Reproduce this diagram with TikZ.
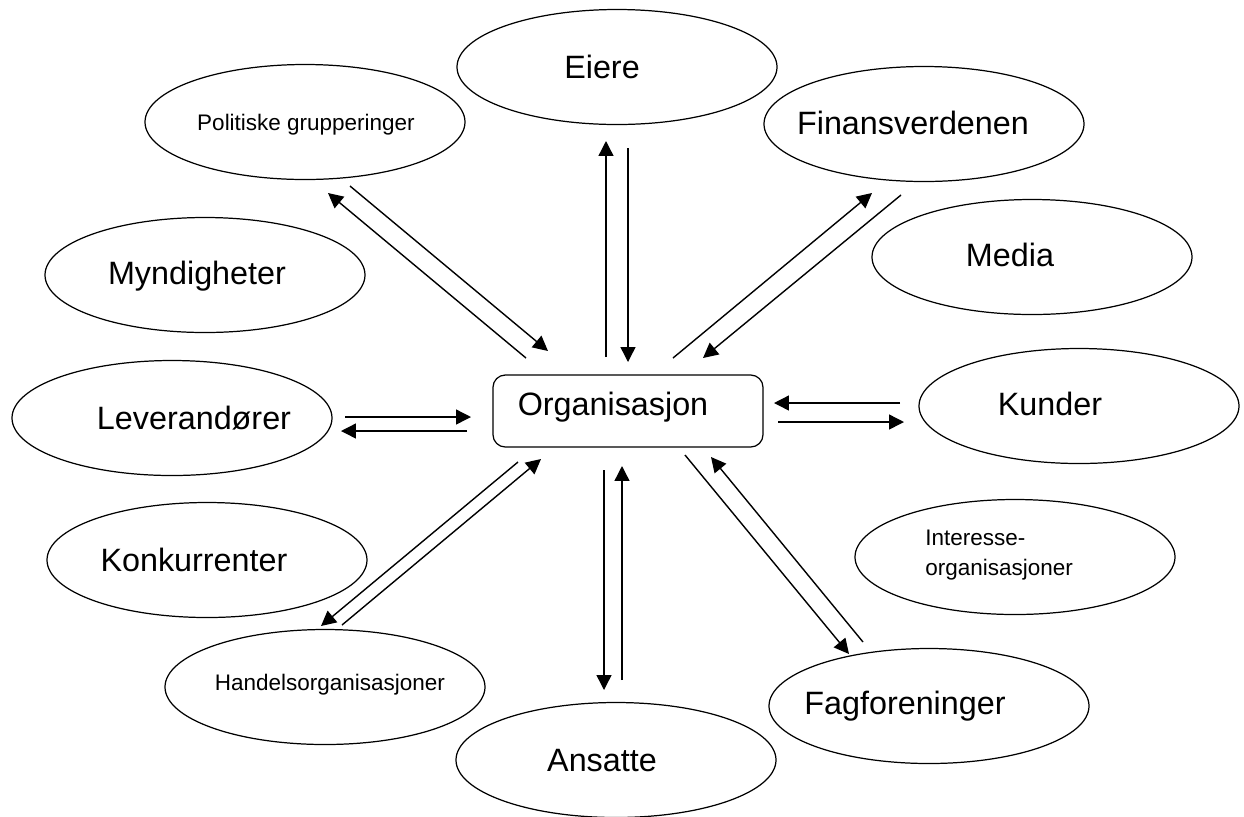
\documentclass[tikz,border=0pt]{standalone}
\usepackage{fontspec}
\setmainfont{Liberation Sans}
\usetikzlibrary{shapes.geometric,arrows.meta}
\begin{document}
\begin{tikzpicture}[x=0.02cm,y=-0.02cm,
  stake/.style={draw=black,line width=0.7pt,ellipse,minimum width=320*0.02cm,minimum height=115*0.02cm,inner sep=0pt},
  core/.style={draw=black,line width=0.7pt,rounded corners=7pt,minimum width=270*0.02cm,minimum height=72*0.02cm,inner sep=0pt},
  bigtxt/.style={anchor=base,inner sep=0pt,font=\fontsize{18.4}{22}\selectfont},
  smalltxt/.style={anchor=base,inner sep=0pt,font=\fontsize{12.8}{17}\selectfont},
  flow/.style={line width=0.8pt,-{Triangle[length=8.5pt,width=8.5pt]}}]
\useasboundingbox (0,0) rectangle (1244,816);

% stakeholder ellipses
\node[stake] (eiere) at (617,67) {};
\node[stake] (pol)   at (305,122) {};
\node[stake] (fin)   at (924,124) {};
\node[stake] (myn)   at (205,275) {};
\node[stake] (med)   at (1032,257) {};
\node[stake] (lev)   at (172,418) {};
\node[stake] (kun)   at (1079,406) {};
\node[stake] (kon)   at (207,560) {};
\node[stake] (int)   at (1015,557) {};
\node[stake] (han)   at (325,687) {};
\node[stake] (ans)   at (616,760) {};
\node[stake] (fag)   at (929,706) {};

% central organisation
\node[core] (org) at (628,411) {};

% labels
\node[bigtxt] (teiere) at (602,78) {Eiere};
\node[smalltxt] (tpol) at (306,130) {Politiske grupperinger};
\node[bigtxt] (tfin) at (913,134) {Finansverdenen};
\node[bigtxt] (tmyn) at (197,284) {Myndigheter};
\node[bigtxt] (tmed) at (1010,266) {Media};
\node[bigtxt] (tlev) at (194,429) {Leverandører};
\node[bigtxt] (tkun) at (1050,415) {Kunder};
\node[bigtxt] (tkon) at (194,571) {Konkurrenter};
\node[smalltxt,anchor=base west] (tint1) at (925,545) {Interesse-};
\node[smalltxt,anchor=base west] (tint2) at (925,575) {organisasjoner};
\node[smalltxt] (than) at (330,690) {Handelsorganisasjoner};
\node[bigtxt] (tans) at (602,771) {Ansatte};
\node[bigtxt] (tfag) at (905,714) {Fagforeninger};
\node[bigtxt] (torg) at (613,415) {Organisasjon};

% arrow end points
\coordinate (e1) at (606,357); \coordinate (e2) at (606,141);
\coordinate (e3) at (628,148); \coordinate (e4) at (628,362);
\coordinate (p1) at (526,358); \coordinate (p2) at (328,193);
\coordinate (p3) at (350,186); \coordinate (p4) at (548,351);
\coordinate (f1) at (673,358); \coordinate (f2) at (872,193);
\coordinate (f3) at (901,195); \coordinate (f4) at (703,358);
\coordinate (l1) at (345,417); \coordinate (l2) at (471,417);
\coordinate (l3) at (467,431); \coordinate (l4) at (341,431);
\coordinate (k1) at (900,403); \coordinate (k2) at (774,403);
\coordinate (k3) at (778,422); \coordinate (k4) at (904,422);
\coordinate (h1) at (518,462); \coordinate (h2) at (321,626);
\coordinate (h3) at (342,625); \coordinate (h4) at (541,459);
\coordinate (a1) at (604,470); \coordinate (a2) at (604,690);
\coordinate (a3) at (622,680); \coordinate (a4) at (622,466);
\coordinate (g1) at (685,455); \coordinate (g2) at (849,654);
\coordinate (g3) at (863,642); \coordinate (g4) at (711,457);

% two-way flows
\draw[flow] (e1) -- (e2); \draw[flow] (e3) -- (e4);
\draw[flow] (p1) -- (p2); \draw[flow] (p3) -- (p4);
\draw[flow] (f1) -- (f2); \draw[flow] (f3) -- (f4);
\draw[flow] (l1) -- (l2); \draw[flow] (l3) -- (l4);
\draw[flow] (k1) -- (k2); \draw[flow] (k3) -- (k4);
\draw[flow] (h1) -- (h2); \draw[flow] (h3) -- (h4);
\draw[flow] (a1) -- (a2); \draw[flow] (a3) -- (a4);
\draw[flow] (g1) -- (g2); \draw[flow] (g3) -- (g4);
\end{tikzpicture}
\end{document}
